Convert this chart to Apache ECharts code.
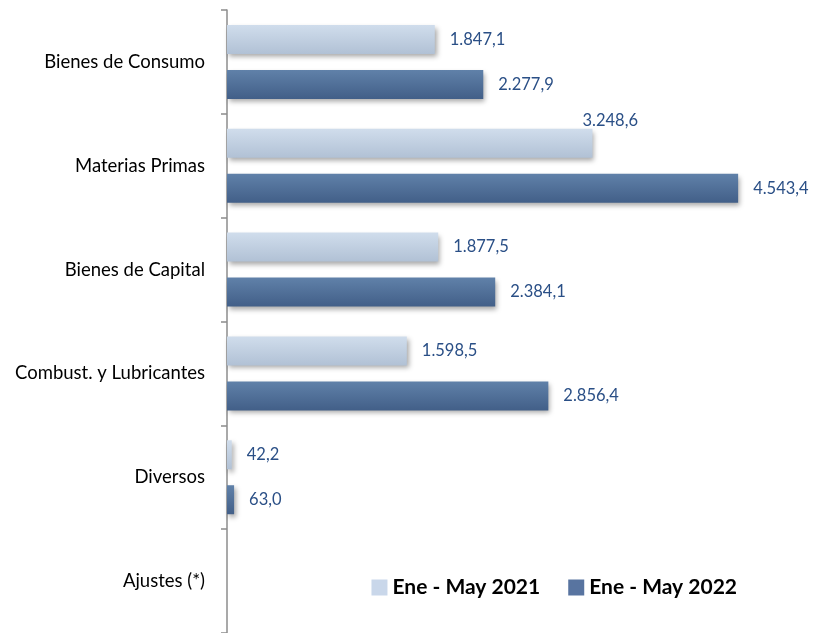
<!DOCTYPE html>
<html>
<head>
<meta charset="utf-8">
<script src="https://cdn.jsdelivr.net/npm/echarts@6/dist/echarts.min.js"></script>
<style>
  html, body { margin: 0; padding: 0; background: #fff; }
  #chart { width: 815px; height: 633px; }
</style>
</head>
<body>
<div id="chart"></div>
<script>
var categories = ['Bienes de Consumo', 'Materias Primas', 'Bienes de Capital', 'Combust. y Lubricantes', 'Diversos', 'Ajustes (*)']
var values2021 = [1847.1, 3248.6, 1877.5, 1598.5, 42.2, null]
var values2022 = [2277.9, 4543.4, 2384.1, 2856.4, 63.0, null]
var seriesNames = ['Ene - May 2021', 'Ene - May 2022']

var fmt = function (v) {
  var parts = v.toFixed(1).split('.')
  var int = parts[0].replace(/\B(?=(\d{3})+(?!\d))/g, '.')
  return int + ',' + parts[1]
}

var grad = function (top, bottom) {
  return new echarts.graphic.LinearGradient(0, 0, 0, 1, [
    {offset: 0, color: top},
    {offset: 1, color: bottom}
  ])
}

var labelStyle = {
  show: true,
  position: 'right',
  distance: 15,
  color: '#2a4f86',
  fontFamily: 'Lato',
  fontSize: 16.5,
  formatter: function (p) { return fmt(p.value) }
}

var barShadow = {
  shadowColor: 'rgba(0,0,0,0.35)',
  shadowBlur: 5,
  shadowOffsetX: 2,
  shadowOffsetY: 3
}

// el valor 3.248,6 va encima de la barra
var data2021 = values2021.map(function (v, i) {
  if (i === 1) {
    return {value: v, label: {offset: [-25, -23]}}
  }
  return v
})

var chart = echarts.init(document.getElementById('chart'))
chart.setOption({
  animation: false,
  legend: {
    right: 73,
    bottom: 30,
    itemWidth: 16,
    itemHeight: 16,
    itemGap: 28,
    icon: 'rect',
    textStyle: {
      fontFamily: 'Lato',
      fontWeight: 'bold',
      fontSize: 21,
      color: '#000'
    },
    data: [
      {name: seriesNames[0], itemStyle: {color: '#c9d7ea', shadowBlur: 0, shadowOffsetX: 0, shadowOffsetY: 0}},
      {name: seriesNames[1], itemStyle: {color: '#5874a0', shadowBlur: 0, shadowOffsetX: 0, shadowOffsetY: 0}}
    ]
  },
  grid: {
    left: 227,
    right: 25.5,
    top: 10,
    bottom: 0,
    containLabel: false
  },
  xAxis: {
    type: 'value',
    min: 0,
    max: 5000,
    show: false
  },
  yAxis: {
    type: 'category',
    inverse: true,
    data: categories,
    axisLine: {
      show: true,
      lineStyle: {color: '#8c8c8c', width: 1.5}
    },
    axisTick: {
      show: true,
      length: 6,
      lineStyle: {color: '#8c8c8c', width: 1.5}
    },
    axisLabel: {
      margin: 22,
      color: '#000',
      fontFamily: 'Lato',
      fontSize: 18.5
    }
  },
  series: [
    {
      name: seriesNames[0],
      type: 'bar',
      data: data2021,
      barWidth: 29,
      barGap: '55%',
      itemStyle: Object.assign({color: grad('#d0ddec', '#b1c1d5')}, barShadow),
      label: labelStyle
    },
    {
      name: seriesNames[1],
      type: 'bar',
      data: values2022,
      barWidth: 29,
      barGap: '55%',
      itemStyle: Object.assign({color: grad('#6081a9', '#425f88')}, barShadow),
      label: labelStyle
    }
  ]
})
</script>
</body>
</html>
